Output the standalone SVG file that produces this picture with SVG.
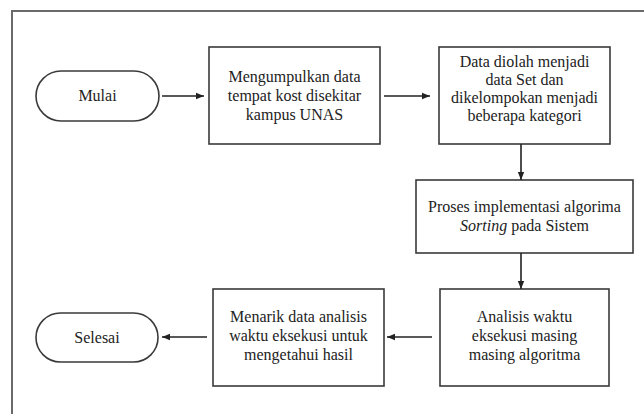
<svg xmlns="http://www.w3.org/2000/svg" width="644" height="414" viewBox="0 0 644 414">
<defs>
<style>
.frame{fill:none;stroke:#6a6a6a;stroke-width:2}
.box{fill:#ffffff;stroke:#3a3a3a;stroke-width:1.6}
.t{font-family:"Liberation Serif","Times New Roman",serif;font-size:16px;fill:#222;text-anchor:middle}
.c{fill:none;stroke:#222;stroke-width:1.6}
</style>
<marker id="ah" viewBox="0 0 8 8" refX="8" refY="4" markerWidth="8" markerHeight="8" markerUnits="userSpaceOnUse" orient="auto">
<path d="M0,0.8 L8,4 L0,7.2 Z" fill="#222"/>
</marker>
</defs>
<rect width="644" height="414" fill="#ffffff"/>
<path class="frame" d="M12,414 L12,11 L644,11"/>
<g id="mulai">
<rect class="box" x="36" y="71" width="123" height="50" rx="25" ry="25"/>
<text class="t" x="97.5" y="101">Mulai</text>
</g>
<g id="kumpul">
<rect class="box" x="209" y="47" width="171" height="97"/>
<text class="t" x="294.5" y="82">Mengumpulkan data</text>
<text class="t" x="294.5" y="101">tempat kost disekitar</text>
<text class="t" x="294.5" y="120">kampus UNAS</text>
</g>
<g id="olah">
<rect class="box" x="439" y="47" width="171" height="97"/>
<text class="t" x="524.5" y="67">Data diolah menjadi</text>
<text class="t" x="524.5" y="85">data Set dan</text>
<text class="t" x="524.5" y="103">dikelompokan menjadi</text>
<text class="t" x="524.5" y="121">beberapa kategori</text>
</g>
<g id="proses">
<rect class="box" x="416" y="180" width="217" height="73"/>
<text class="t" x="524.5" y="212">Proses implementasi algorima</text>
<text class="t" x="524.5" y="231"><tspan font-style="italic">Sorting</tspan> pada Sistem</text>
</g>
<g id="analisis">
<rect class="box" x="440" y="289" width="169" height="97"/>
<text class="t" x="524.5" y="322">Analisis waktu</text>
<text class="t" x="524.5" y="341">eksekusi masing</text>
<text class="t" x="524.5" y="360">masing algoritma</text>
</g>
<g id="menarik">
<rect class="box" x="213" y="289" width="171" height="97"/>
<text class="t" x="298.5" y="322">Menarik data analisis</text>
<text class="t" x="298.5" y="341">waktu eksekusi untuk</text>
<text class="t" x="298.5" y="360">mengetahui hasil</text>
</g>
<g id="selesai">
<rect class="box" x="36" y="313" width="122" height="49" rx="24.5" ry="24.5"/>
<text class="t" x="97" y="343">Selesai</text>
</g>
<g id="connectors">
<path class="c" d="M162,96 L204,96" marker-end="url(#ah)"/>
<path class="c" d="M384,96 L430,96" marker-end="url(#ah)"/>
<path class="c" d="M521,144 L521,180" marker-end="url(#ah)"/>
<path class="c" d="M521,253 L521,289" marker-end="url(#ah)"/>
<path class="c" d="M432,337 L387,337" marker-end="url(#ah)"/>
<path class="c" d="M207,337 L162,337" marker-end="url(#ah)"/>
</g>
</svg>
